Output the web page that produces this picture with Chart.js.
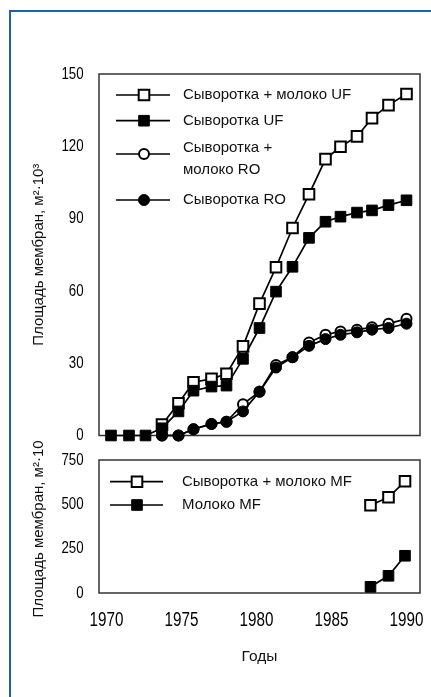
<!DOCTYPE html>
<html>
<head>
<meta charset="utf-8">
<script src="https://cdn.jsdelivr.net/npm/chart.js@4/dist/chart.umd.min.js"></script>
<style>
  html, body { margin: 0; padding: 0; background: #fff; }
  #frame { position: absolute; left: 9px; top: 10px; width: 430px; height: 700px;
           border-top: 2px solid #1d63a7; border-left: 2px solid #1d63a7; }
  #top { position: absolute; left: 0; top: 0; }
  #bottom { position: absolute; left: 0; top: 440px; }
</style>
</head>
<body>
<div id="frame"></div>
<canvas id="top" width="431" height="445"></canvas>
<canvas id="bottom" width="431" height="257"></canvas>
<script>
// years (the points are not exactly on whole years)
const years = [1970.3, 1971.5, 1972.6, 1973.7, 1974.8, 1975.8, 1977.0, 1978.0, 1979.1, 1980.2,
               1981.3, 1982.4, 1983.5, 1984.6, 1985.6, 1986.7, 1987.7, 1988.8, 1990.0];
const wheyMilkUF = [null, null, null, 4.5, 13.4, 22.1, 23.5, 25.6, 37, 54.7,
                    69.8, 86.1, 100.1, 114.7, 119.8, 124.1, 131.7, 137.1, 141.7];
const wheyUF = [0, 0, 0, 3, 10, 18.6, 20.3, 20.7, 31.8, 44.6,
                59.7, 70, 82, 88.7, 90.8, 92.5, 93.4, 95.6, 97.6];
const wheyMilkRO = [null, null, null, 0, 0, 2.6, 4.8, 5.7, 13, 18.2,
                    29.3, 32.5, 38.6, 41.8, 43.2, 43.9, 44.9, 46.4, 48.4];
const wheyRO = [null, null, null, 0, 0, 2.6, 4.8, 5.7, 10, 18.2,
                28.2, 32.5, 37.2, 40, 41.8, 42.8, 43.9, 44.6, 46.4];

const mfYears = [1987.6, 1988.8, 1989.9];
const wheyMilkMF = [495, 540, 630];
const milkMF = [35, 97, 210];

const xTicks = [1970, 1975, 1980, 1985, 1990];
const topTicks = [0, 30, 60, 90, 120, 150];
const bottomTicks = [0, 250, 500, 750];

const yTitle = 'Площадь мембран, м²·10³';
const textFont = "'Liberation Sans', Arial, sans-serif";

const toPoints = (xs, ys) => xs.map((x, i) => ({ x: x, y: ys[i] }));

function series(label, xs, ys, style, hollow) {
  const r = style === 'rect' ? 7.5 : (hollow ? 5 : 5.5);
  return {
    label: label,
    data: toPoints(xs, ys),
    borderColor: '#000',
    borderWidth: 1.7,
    pointStyle: style,
    pointRadius: r,
    pointHoverRadius: r,
    pointBackgroundColor: hollow ? '#fff' : '#000',
    pointBorderColor: '#000',
    pointBorderWidth: hollow ? 2 : 1,
    order: hollow ? 1 : 0,   // filled markers sit on top, as in the picture
    clip: false,
    tension: 0
  };
}

// legend drawn inside the plot, with a line through each marker
const insideLegend = {
  id: 'insideLegend',
  afterDraw(chart, args, opts) {
    const { ctx, chartArea: a } = chart;
    ctx.save();
    opts.rows.forEach(row => {
      const ds = chart.data.datasets[row.index];
      const y = a.top + row.y;
      ctx.strokeStyle = '#000';
      ctx.lineWidth = ds.borderWidth;
      ctx.beginPath();
      ctx.moveTo(a.left + opts.lineFrom, y);
      ctx.lineTo(a.left + opts.lineTo, y);
      ctx.stroke();
      ctx.fillStyle = ds.pointBackgroundColor;
      ctx.strokeStyle = ds.pointBorderColor;
      ctx.lineWidth = ds.pointBorderWidth;
      Chart.helpers.drawPoint(ctx, {
        pointStyle: ds.pointStyle, radius: ds.pointRadius,
        borderWidth: ds.pointBorderWidth, rotation: 0
      }, a.left + opts.marker, y);
      ctx.fillStyle = '#111';
      ctx.font = '15px ' + textFont;
      ctx.textBaseline = 'middle';
      ctx.textAlign = 'left';
      row.lines.forEach(l => ctx.fillText(l[0], a.left + opts.text, y + l[1]));
    });
    ctx.restore();
  }
};

// tick labels in a narrow face, like the original figure
const narrowTicks = {
  id: 'narrowTicks',
  afterDraw(chart, args, opts) {
    const { ctx, chartArea: a } = chart;
    ctx.save();
    ctx.fillStyle = '#000';
    ctx.textBaseline = 'middle';
    opts.axes.forEach(ax => {
      const scale = chart.scales[ax.id];
      ctx.font = ax.size + 'px ' + textFont;
      scale.ticks.forEach(t => {
        const p = scale.getPixelForValue(t.value);
        ctx.save();
        if (scale.isHorizontal()) {
          ctx.translate(p, a.bottom + ax.gap);
          ctx.textAlign = 'center';
        } else {
          ctx.translate(a.left - ax.gap, p);
          ctx.textAlign = 'right';
        }
        ctx.scale(ax.squeeze, 1);
        ctx.fillText(String(t.value), 0, 0);
        ctx.restore();
      });
    });
    ctx.restore();
  }
};

// full box round the plot area
const plotBox = {
  id: 'plotBox',
  beforeDatasetsDraw(chart) {
    const { ctx, chartArea: a } = chart;
    ctx.save();
    ctx.strokeStyle = '#333';
    ctx.lineWidth = 1.5;
    ctx.strokeRect(a.left, a.top, a.right - a.left, a.bottom - a.top);
    ctx.restore();
  }
};

function yScale(max, ticks) {
  return {
    min: 0,
    max: max,
    afterBuildTicks: s => { s.ticks = ticks.map(v => ({ value: v })); },
    afterFit: s => { s.width = 99; },
    grid: { display: false, drawTicks: false },
    border: { display: false },
    ticks: { display: false },
    title: { display: true, text: yTitle, color: '#111', padding: { top: 30, bottom: 0 },
             font: { family: textFont, size: 15 } }
  };
}

const xRange = { min: 1969.5, max: 1990.9 };

new Chart(document.getElementById('top'), {
  type: 'line',
  data: {
    datasets: [
      series('Сыворотка + молоко UF', years, wheyMilkUF, 'rect', true),
      series('Сыворотка UF', years, wheyUF, 'rect', false),
      series('Сыворотка + молоко RO', years, wheyMilkRO, 'circle', true),
      series('Сыворотка RO', years, wheyRO, 'circle', false)
    ]
  },
  options: {
    responsive: false,
    animation: false,
    layout: { padding: { top: 74, right: 11, bottom: 9.5, left: 0 } },
    plugins: {
      legend: { display: false },
      tooltip: { enabled: false },
      narrowTicks: { axes: [{ id: 'y', size: 17, squeeze: 0.78, gap: 15.5 }] },
      insideLegend: {
        lineFrom: 17, lineTo: 71, marker: 45, text: 84,
        rows: [
          { index: 0, y: 21, lines: [['Сыворотка + молоко UF', 0]] },
          { index: 1, y: 46.7, lines: [['Сыворотка UF', 0]] },
          { index: 2, y: 80, lines: [['Сыворотка +', -6], ['молоко RO', 16]] },
          { index: 3, y: 126, lines: [['Сыворотка RO', 0]] }
        ]
      }
    },
    scales: {
      x: { type: 'linear', min: xRange.min, max: xRange.max, display: false,
           afterFit: s => { s.height = 0; } },
      y: yScale(150, topTicks)
    }
  },
  plugins: [plotBox, narrowTicks, insideLegend]
});

new Chart(document.getElementById('bottom'), {
  type: 'line',
  data: {
    datasets: [
      series('Сыворотка + молоко MF', mfYears, wheyMilkMF, 'rect', true),
      series('Молоко MF', mfYears, milkMF, 'rect', false)
    ]
  },
  options: {
    responsive: false,
    animation: false,
    layout: { padding: { top: 20, right: 11, bottom: 0, left: 0 } },
    plugins: {
      legend: { display: false },
      tooltip: { enabled: false },
      narrowTicks: { axes: [{ id: 'y', size: 17, squeeze: 0.78, gap: 15.5 },
                            { id: 'x', size: 19.5, squeeze: 0.78, gap: 27.5 }] },
      insideLegend: {
        lineFrom: 11, lineTo: 64, marker: 38, text: 83,
        rows: [
          { index: 0, y: 21.7, lines: [['Сыворотка + молоко MF', 0]] },
          { index: 1, y: 45, lines: [['Молоко MF', 0]] }
        ]
      }
    },
    scales: {
      x: {
        type: 'linear', min: xRange.min, max: xRange.max,
        afterBuildTicks: s => { s.ticks = xTicks.map(v => ({ value: v })); },
        afterFit: s => { s.height = 104; },
        grid: { display: false, drawTicks: false },
        border: { display: false },
        ticks: { display: false },
        title: { display: true, text: 'Годы', color: '#111', padding: { top: 0, bottom: 30.5 },
                 font: { family: textFont, size: 15.5 } }
      },
      y: yScale(750, bottomTicks)
    }
  },
  plugins: [plotBox, narrowTicks, insideLegend]
});
</script>
</body>
</html>
